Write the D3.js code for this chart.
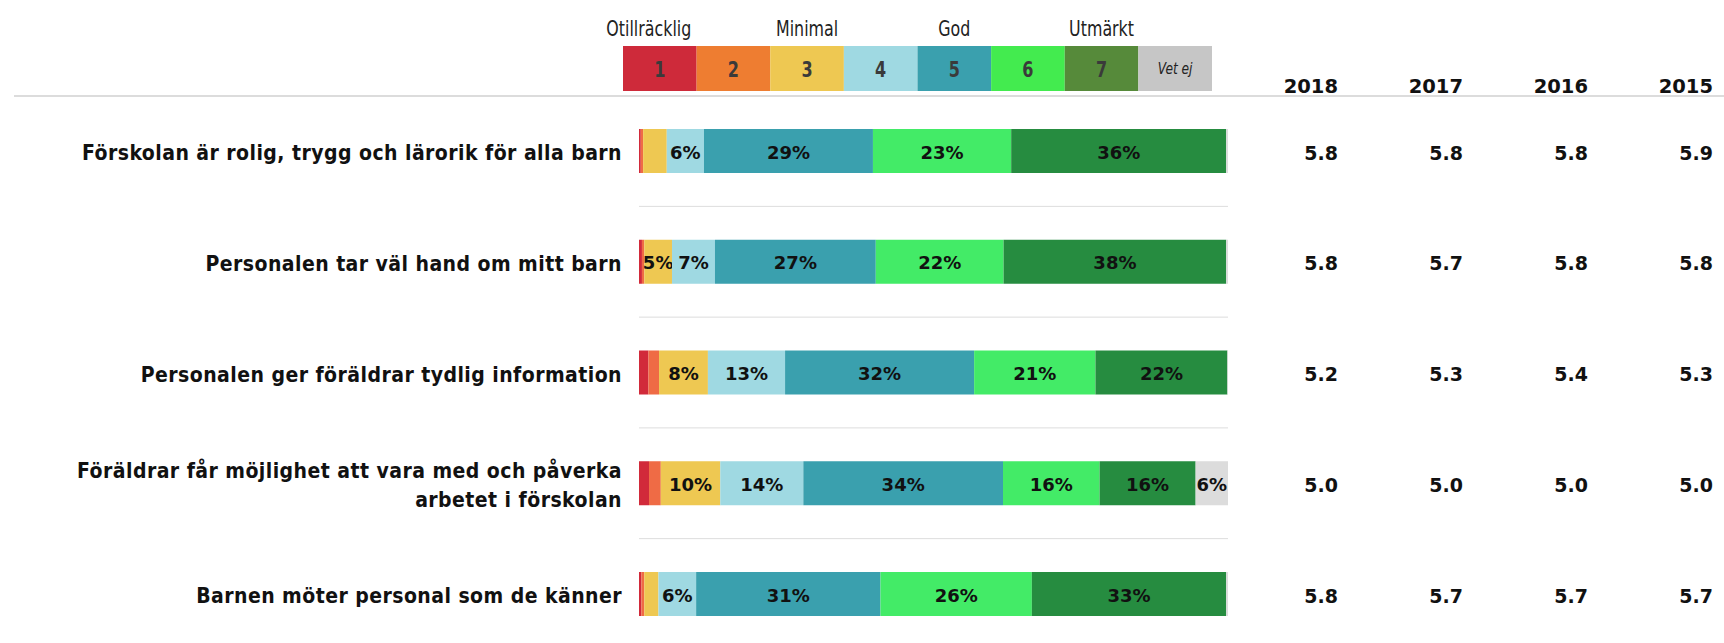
<!DOCTYPE html>
<html>
<head>
<meta charset="utf-8">
<script src="https://cdn.jsdelivr.net/npm/d3@7"></script>
<style>
  body { margin: 0; background: #fff; }
  svg { display: block; }
  .cat { font-family: 'DejaVu Sans Condensed', sans-serif; font-weight: bold; font-size: 21px; letter-spacing: 0.45px; fill: #111; }
  .seg-label { font-family: 'DejaVu Sans', sans-serif; font-weight: bold; font-size: 18px; fill: #111; }
  .year { font-family: 'DejaVu Sans', sans-serif; font-weight: bold; font-size: 19.5px; fill: #111; }
  .avg { font-family: 'DejaVu Sans', sans-serif; font-weight: bold; font-size: 19px; fill: #111; }
  .leg-title { font-family: 'DejaVu Sans Condensed', sans-serif; font-size: 21px; fill: #222; }
  .leg-num { font-family: 'DejaVu Sans Condensed', sans-serif; font-weight: bold; font-size: 21px; fill: #3a3a3a; }
</style>
</head>
<body>
<div id="chart"></div>
<script>
(function(d3) {
'use strict';

var categories = [
  'Förskolan är rolig, trygg och lärorik för alla barn',
  'Personalen tar väl hand om mitt barn',
  'Personalen ger föräldrar tydlig information',
  'Föräldrar får möjlighet att vara med och påverka\narbetet i förskolan',
  'Barnen möter personal som de känner'
];

var levels = ['1', '2', '3', '4', '5', '6', '7', 'Vet ej'];
var levelTitles = ['Otillräcklig', '', 'Minimal', '', 'God', '', 'Utmärkt', ''];

// share of answers (%) per level, one row per category
var shares = [
  [0.3, 0.4, 4.0, 6.3, 28.6, 23.4, 36.4, 0.3],
  [0.5, 0.4, 4.7, 7.3, 27.3, 21.7, 37.8, 0.3],
  [1.6, 1.8, 8.3, 13.1, 32.1, 20.6, 22.4, 0.1],
  [1.7, 2.0, 10.1, 14.1, 33.9, 16.4, 16.3, 5.5],
  [0.4, 0.5, 2.4, 6.4, 31.3, 25.7, 33.0, 0.3]
];

var years = ['2018', '2017', '2016', '2015'];
var averages = [
  [5.8, 5.8, 5.8, 5.9],
  [5.8, 5.7, 5.8, 5.8],
  [5.2, 5.3, 5.4, 5.3],
  [5.0, 5.0, 5.0, 5.0],
  [5.8, 5.7, 5.7, 5.7]
];

var barColors = ['#D12A3A', '#EF6B45', '#EEC852', '#9FD9E2', '#3AA0AE', '#43EB67', '#268C40', '#DCDCDC'];
var legendColors = ['#CE2A3A', '#EE7D31', '#EEC852', '#9FD9E2', '#3AA0AE', '#43EB4F', '#568A3A', '#C6C6C6'];

var width = 1724;
var height = 643;

var svg = d3.select('#chart')
  .append('svg')
  .attr('width', width)
  .attr('height', height);

var table = categories.map(function(c, i) {
  var row = { category: c };
  levels.forEach(function(l, j) { row[l] = shares[i][j]; });
  return row;
});

var stacked = d3.stack()
  .keys(levels)
  .offset(d3.stackOffsetExpand)(table);

var x = d3.scaleLinear()
  .domain([0, 1])
  .range([639, 1228]);

var step = 110.75;
var y = d3.scaleBand()
  .domain(categories)
  .paddingInner(0.6027)
  .paddingOuter(0.3)
  .range([129 - 0.3 * step, 129 - 0.3 * step + step * (categories.length - 0.6027 + 0.6)]);

var legendX = d3.scaleBand()
  .domain(levels)
  .range([623, 1212]);

var yearX = d3.scalePoint()
  .domain(years)
  .range([1338, 1713]);

// legend
var legend = svg.append('g');
legend.selectAll('rect')
  .data(levels)
  .enter().append('rect')
  .attr('x', function(d) { return legendX(d); })
  .attr('y', 46)
  .attr('width', legendX.bandwidth())
  .attr('height', 45)
  .attr('fill', function(d, i) { return legendColors[i]; });

legend.selectAll('.leg-num')
  .data(levels)
  .enter().append('text')
  .attr('class', 'leg-num')
  .attr('transform', function(d) {
    return 'translate(' + (legendX(d) + legendX.bandwidth() / 2) + ',' + (d === 'Vet ej' ? 74 : 77) + ') scale(0.85,1)';
  })
  .attr('text-anchor', 'middle')
  .style('font-style', function(d) { return d === 'Vet ej' ? 'italic' : null; })
  .style('font-weight', function(d) { return d === 'Vet ej' ? 'normal' : null; })
  .style('font-size', function(d) { return d === 'Vet ej' ? '16px' : null; })
  .style('fill', function(d) { return d === 'Vet ej' ? '#222' : null; })
  .text(function(d) { return d; });

legend.selectAll('.leg-title')
  .data(levels)
  .enter().append('text')
  .attr('class', 'leg-title')
  .attr('transform', function(d, i) {
    return 'translate(' + (legendX(d) + legendX.bandwidth() / 2 - (i === 0 ? 11 : 0)) + ',36) scale(0.84,1)';
  })
  .attr('text-anchor', 'middle')
  .text(function(d, i) { return levelTitles[i]; });

// header line
svg.append('line')
  .attr('x1', 14).attr('x2', width)
  .attr('y1', 96).attr('y2', 96)
  .attr('stroke', '#dcdcdc')
  .attr('stroke-width', 2);

// year headers
svg.selectAll('.year')
  .data(years)
  .enter().append('text')
  .attr('class', 'year')
  .attr('x', function(d) { return yearX(d); })
  .attr('y', 93)
  .attr('text-anchor', 'end')
  .text(function(d) { return d; });

// separators between rows
svg.selectAll('.sep')
  .data(categories.slice(0, -1))
  .enter().append('line')
  .attr('class', 'sep')
  .attr('x1', x(0)).attr('x2', x(1))
  .attr('y1', function(d) { return y(d) + y.bandwidth() + (y.step() - y.bandwidth()) / 2; })
  .attr('y2', function(d) { return y(d) + y.bandwidth() + (y.step() - y.bandwidth()) / 2; })
  .attr('stroke', '#dddddd')
  .attr('stroke-width', 1);

// bars
var series = svg.append('g')
  .selectAll('g')
  .data(stacked)
  .enter().append('g')
  .attr('fill', function(d, i) { return barColors[i]; });

series.selectAll('rect')
  .data(function(d) { return d; })
  .enter().append('rect')
  .attr('x', function(d) { return x(d[0]); })
  .attr('y', function(d) { return y(d.data.category); })
  .attr('width', function(d) { return x(d[1]) - x(d[0]); })
  .attr('height', y.bandwidth());

series.selectAll('text')
  .data(function(d) {
    return d.map(function(p) { return { p: p, key: d.key }; })
      .filter(function(e) { return Math.round(e.p.data[e.key]) >= 5; });
  })
  .enter().append('text')
  .attr('class', 'seg-label')
  .attr('x', function(d) { return (x(d.p[0]) + x(d.p[1])) / 2; })
  .attr('y', function(d) { return y(d.p.data.category) + y.bandwidth() / 2; })
  .attr('dy', '0.43em')
  .attr('text-anchor', 'middle')
  .text(function(d) { return Math.round(d.p.data[d.key]) + '%'; });

// category labels
var cats = svg.selectAll('.cat')
  .data(categories)
  .enter().append('text')
  .attr('class', 'cat')
  .attr('text-anchor', 'end')
  .attr('y', function(d) { return y(d) + y.bandwidth() / 2; });

cats.each(function(d) {
  var lines = d.split('\n');
  var el = d3.select(this);
  lines.forEach(function(line, i) {
    el.append('tspan')
      .attr('x', 622)
      .attr('dy', i === 0 ? (0.43 - (lines.length - 1) * 0.69) + 'em' : '1.38em')
      .text(line);
  });
});

// averages per year
var avgRows = svg.selectAll('.avg-row')
  .data(averages)
  .enter().append('g')
  .attr('class', 'avg-row');

avgRows.selectAll('text')
  .data(function(d, i) {
    return d.map(function(v, j) { return { v: v, year: years[j], category: categories[i] }; });
  })
  .enter().append('text')
  .attr('class', 'avg')
  .attr('x', function(d) { return yearX(d.year); })
  .attr('y', function(d) { return y(d.category) + y.bandwidth() / 2; })
  .attr('dy', '0.45em')
  .attr('text-anchor', 'end')
  .text(function(d) { return d.v.toFixed(1); });

})(window.d3);
</script>
</body>
</html>
